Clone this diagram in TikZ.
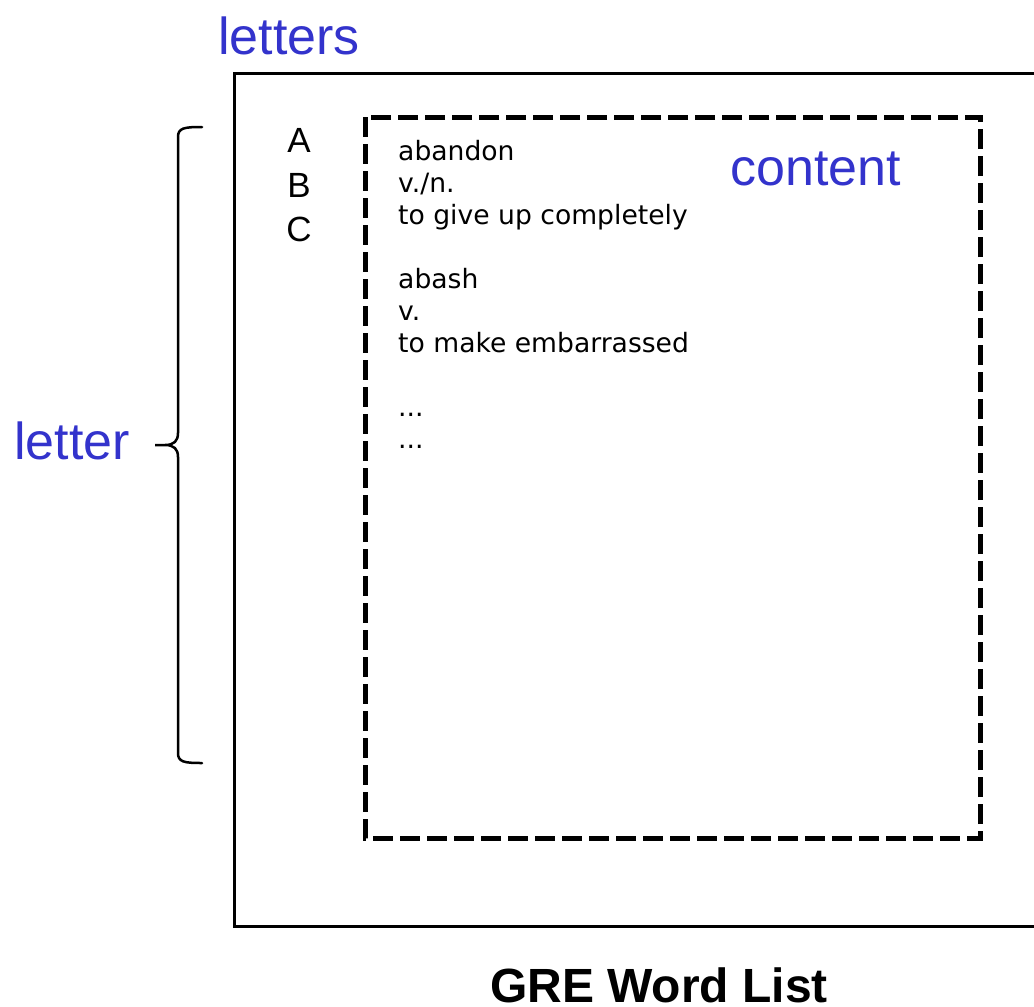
\documentclass[tikz,border=0pt]{standalone}
\usepackage{fontspec}
\setmainfont{Liberation Sans}
\newfontfamily\entryfont{DejaVu Sans}
\definecolor{labelblue}{RGB}{51,51,204}
\tikzset{
  biglabel/.style={text=labelblue, font=\fontsize{52}{60}\selectfont, inner sep=0pt, anchor=base west},
  entry/.style={font=\entryfont\fontsize{26.6}{32}\selectfont, inner sep=0pt, anchor=base west},
  initial/.style={font=\fontsize{35}{40}\selectfont, inner sep=0pt, anchor=base}
}
\begin{document}
\begin{tikzpicture}[x=1pt, y=-1pt]
\useasboundingbox (0,0) rectangle (1034,1007);
% page frame, runs off the right edge
\draw[line width=3pt] (1040,73) -- (234,73) -- (234,926) -- (1040,926);
% content area
\draw[line width=5pt, dash pattern=on 20pt off 7pt] (365,117) rectangle (980,838);
% brace over the letter index
\coordinate (bracetop) at (202,127);
\coordinate (bracetip) at (155,445);
\coordinate (bracebot) at (202,763);
\draw[line width=2.5pt, line cap=round]
  (bracetop) .. controls (184,127) and (178,128) .. (178,137)
  -- (178,433) .. controls (178,441) and (174,445) .. (165,445) -- (bracetip)
  -- (165,445) .. controls (174,445) and (178,449) .. (178,457)
  -- (178,753) .. controls (178,762) and (184,763) .. (bracebot);
\node[biglabel] (letters) at (218,54) {letters};
\node[biglabel] (letter) at (14,459) {letter};
\node[biglabel] (content) at (730,185) {content};
\node[initial] (a) at (299,152) {A};
\node[initial] (b) at (299,197) {B};
\node[initial] (c) at (299,241) {C};
\node[entry] (w1) at (398,160) {abandon};
\node[entry] (w1pos) at (398,192) {v./n.};
\node[entry] (w1def) at (398,224) {to give up completely};
\node[entry] (w2) at (398,288) {abash};
\node[entry] (w2pos) at (398,320) {v.};
\node[entry] (w2def) at (398,352) {to make embarrassed};
\node[entry] (more1) at (398,416) {...};
\node[entry] (more2) at (398,448) {...};
\node[font=\bfseries\fontsize{48}{56}\selectfont, inner sep=0pt, anchor=base] (title) at (659,1002) {GRE Word List};
\end{tikzpicture}
\end{document}
